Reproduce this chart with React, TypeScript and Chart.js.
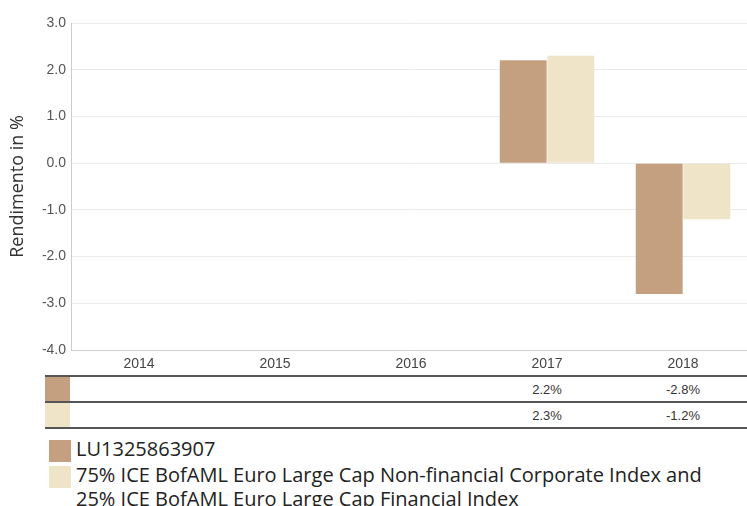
import React, { useEffect, useRef, useState } from "react";
import { Chart, registerables } from "chart.js";

Chart.register(...registerables);

const categories = ["2014", "2015", "2016", "2017", "2018"];
const fundValues: (number | null)[] = [null, null, null, 2.2, -2.8];
const indexValues: (number | null)[] = [null, null, null, 2.3, -1.2];
const fundLabel = "LU1325863907";
const indexLabel = "75% ICE BofAML Euro Large Cap Non-financial Corporate Index and 25% ICE BofAML Euro Large Cap Financial Index";
const yTitle = "Rendimento in %";
const yMin = -4;
const yMax = 3;

const fundColor = "#c4a080";
const indexColor = "#efe3c8";

const fmt = (v: number | null) => (v === null ? "" : v.toFixed(1) + "%");

export default function App() {
  const ref = useRef<HTMLCanvasElement | null>(null);
  const [centers, setCenters] = useState<number[]>([]);

  useEffect(() => {
    if (!ref.current) return;
    const chart = new Chart(ref.current, {
      type: "bar",
      data: {
        labels: categories,
        datasets: [
          {
            label: fundLabel,
            data: fundValues,
            backgroundColor: fundColor,
            categoryPercentage: 0.7,
            barPercentage: 0.985,
          },
          {
            label: indexLabel,
            data: indexValues,
            backgroundColor: indexColor,
            categoryPercentage: 0.7,
            barPercentage: 0.985,
          },
        ],
      },
      options: {
        animation: false,
        responsive: false,
        devicePixelRatio: 1,
        layout: { padding: { top: 23, left: 0, right: 0, bottom: 0 } },
        plugins: { legend: { display: false }, tooltip: { enabled: false } },
        scales: {
          x: {
            grid: { display: false, drawTicks: false },
            border: { display: true, color: "#cccccc", width: 1 },
            ticks: {
              padding: 6,
              color: "#444",
              font: { family: "'Liberation Sans', Arial, sans-serif", size: 14 },
            },
            afterFit: (s: any) => {
              s.height = 25;
            },
          },
          y: {
            min: yMin,
            max: yMax,
            grid: { color: "#ebebeb", drawTicks: false, lineWidth: 1 },
            border: { display: true, color: "#cccccc", width: 1 },
            ticks: {
              stepSize: 1,
              padding: 5,
              color: "#555",
              font: { family: "'Liberation Sans', Arial, sans-serif", size: 14 },
              callback: (v: any) => Number(v).toFixed(1),
            },
            title: {
              display: true,
              text: yTitle,
              color: "#333",
              padding: { top: 7, bottom: 0 },
              font: { family: "'Open Sans', sans-serif", size: 18 },
            },
            afterFit: (s: any) => {
              s.width = 71;
            },
          },
        },
      },
    });
    const xs = chart.scales.x;
    setCenters(categories.map((_, i) => xs.getPixelForValue(i)));
    return () => chart.destroy();
  }, []);

  const rowStyle = (top: number): React.CSSProperties => ({
    position: "absolute",
    left: 45,
    top,
    width: 702,
    height: 26,
  });

  const renderRow = (vals: (number | null)[], color: string, top: number) => (
    <div style={rowStyle(top)}>
      <div style={{ position: "absolute", left: 0, top: 0, width: 25, height: 26, background: color }} />
      {vals.map((v, i) =>
        centers[i] !== undefined ? (
          <div
            key={i}
            style={{
              position: "absolute",
              left: centers[i] - 45 - 50,
              width: 100,
              top: 0,
              height: 26,
              lineHeight: "26px",
              textAlign: "center",
              fontFamily: "'Liberation Sans', Arial, sans-serif",
              fontSize: 13,
              color: "#333",
            }}
          >
            {fmt(v)}
          </div>
        ) : null
      )}
    </div>
  );

  const line = (top: number) => (
    <div style={{ position: "absolute", left: 45, top, width: 702, height: 2, background: "#555" }} />
  );

  const legendText: React.CSSProperties = {
    position: "absolute",
    left: 76,
    fontFamily: "'Open Sans', sans-serif",
    fontSize: 20,
    lineHeight: "24px",
    color: "#222",
    width: 640,
  };

  return (
    <div
      style={{
        position: "absolute",
        left: 0,
        top: 0,
        width: 747,
        height: 506,
        overflow: "hidden",
        background: "#fff",
      }}
    >
      <canvas ref={ref} width={751} height={375} style={{ position: "absolute", left: 0, top: 0 }} />
      {line(375)}
      {renderRow(fundValues, fundColor, 377)}
      {line(401)}
      {renderRow(indexValues, indexColor, 403)}
      {line(427)}
      <div style={{ position: "absolute", left: 49, top: 440, width: 22, height: 22, background: fundColor }} />
      <div style={{ ...legendText, top: 437 }}>{fundLabel}</div>
      <div style={{ position: "absolute", left: 49, top: 466, width: 22, height: 22, background: indexColor }} />
      <div style={{ ...legendText, top: 463 }}>{indexLabel}</div>
    </div>
  );
}
